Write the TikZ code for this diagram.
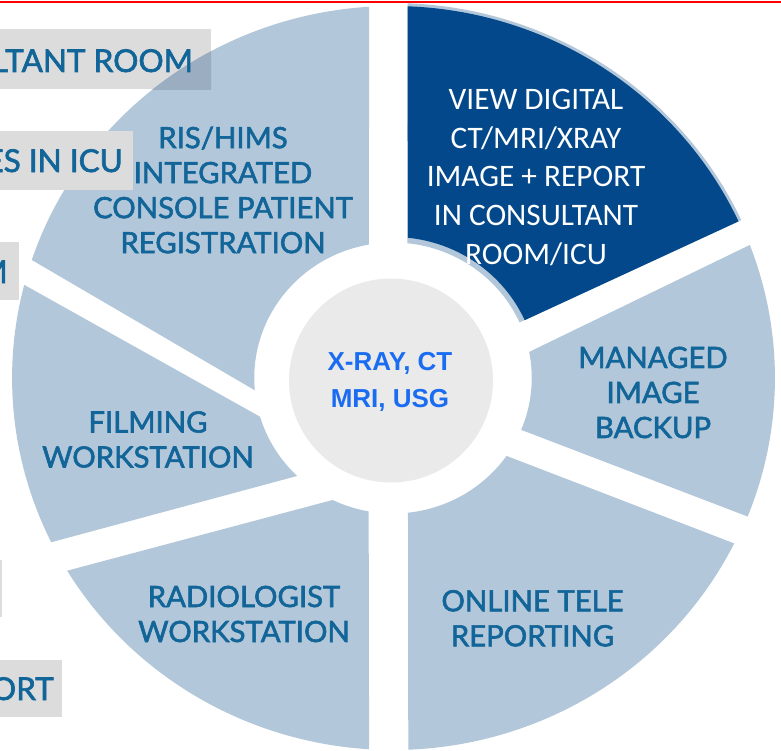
\documentclass[tikz,border=0pt]{standalone}
\usepackage{fontspec}
\setmainfont{Lato}
\newfontfamily\labfont[FakeBold=2]{Lato}
\newfontfamily\calfont{Carlito}
\newfontfamily\arfont{Liberation Sans}
\definecolor{secblue}{RGB}{179,199,218}
\definecolor{secdark}{RGB}{3,72,138}
\definecolor{labtxt}{RGB}{18,101,152}
\definecolor{boxgray}{RGB}{220,220,220}
\definecolor{mixgray}{RGB}{155,173,192}
\definecolor{coregray}{RGB}{234,234,234}
\definecolor{coretxt}{RGB}{26,108,240}
\tikzset{
  seclabel/.style={text=labtxt, align=center, inner sep=0pt,
    font=\labfont\fontsize{29.3bp}{35bp}\selectfont},
  sidelabel/.style={text=labtxt, inner sep=0pt, anchor=base east,
    font=\labfont\fontsize{31.5bp}{38bp}\selectfont},
  ring/.style={shift={(393,-378)}, xscale=1.024}
}
% sector: outer start, outer end, inner start, inner end, R, r
\newcommand\secpath[6]{(#1:#5bp) arc[start angle=#1, end angle=#2, radius=#5bp] -- (#4:#6bp) arc[start angle=#4, end angle=#3, radius=#6bp] -- cycle}
\begin{document}
\begin{tikzpicture}[x=1bp,y=1bp]
\useasboundingbox (0,0) rectangle (781,-751);
\fill[white] (0,0) rectangle (781,-751);
% partially visible side boxes (behind)
\fill[boxgray] (0,-29) rectangle (211,-89);
% sectors
\begin{scope}[ring]
  \fill[secblue] \secpath{93.6}{161.5}{100}{185.2}{372}{135.5};
  \fill[secblue] \secpath{165.5}{206.2}{196.6}{226.3}{372}{135.5};
  \fill[secblue] \secpath{211.2}{266.4}{244.2}{259.9}{372}{135.5};
  \fill[secblue] \secpath{272.3}{333.6}{276.2}{324.9}{372}{135.5};
  \fill[secblue] \secpath{338.2}{380.9}{337.5}{371.1}{373}{135.5};
  \fill[secblue] \secpath{24.9}{87.8}{24.2}{84.1}{375}{135.5};
  \fill[secdark] \secpath{24.9}{87.8}{24.2}{84.1}{372}{141};
\end{scope}
% overlap of first box and sector
\begin{scope}
  \clip (0,-29) rectangle (211,-89);
  \begin{scope}[ring]
    \fill[mixgray] \secpath{93.6}{161.5}{100}{185.2}{372}{135.5};
  \end{scope}
\end{scope}
\fill[boxgray] (0,-131) rectangle (133,-190);
\fill[boxgray] (0,-242) rectangle (19,-300);
\fill[boxgray] (0,-560) rectangle (2,-617);
\fill[boxgray] (0,-660) rectangle (62,-717);
% side texts
\node[sidelabel] (s1) at (193,-72) {LTANT ROOM};
\node[sidelabel] (s2) at (123,-172) {ES IN ICU};
\node[sidelabel] (s3) at (8,-283) {M};
\node[sidelabel] (s4) at (54,-700) {ORT};
% centre
\fill[coregray] (391,-380.5) circle[radius=102bp];
\node[text=coretxt, align=center, inner sep=0pt,
  font=\arfont\bfseries\fontsize{26bp}{36.6bp}\selectfont] (core) at (390,-381.8) {X-RAY, CT\\MRI, USG};
% sector labels
\node[seclabel] (ris) at (223,-190) {RIS/HIMS\\INTEGRATED\\CONSOLE PATIENT\\REGISTRATION};
\node[seclabel] (film) at (148,-439.5) {FILMING\\WORKSTATION};
\node[seclabel] (radio) at (244,-614) {RADIOLOGIST\\WORKSTATION};
\node[seclabel] (tele) at (532.5,-618.3) {ONLINE TELE\\REPORTING};
\node[seclabel] (backup) at (653,-392.5) {MANAGED\\IMAGE\\BACKUP};
\node[text=white, align=center, inner sep=0pt,
  font=\calfont\fontsize{31.3bp}{38.8bp}\selectfont] (view) at (536,-177.5) {VIEW DIGITAL\\CT/MRI/XRAY\\IMAGE + REPORT\\IN CONSULTANT\\ROOM/ICU};
% top red rule
\fill[red] (0,-1) rectangle (781,-3.3);
\end{tikzpicture}
\end{document}
